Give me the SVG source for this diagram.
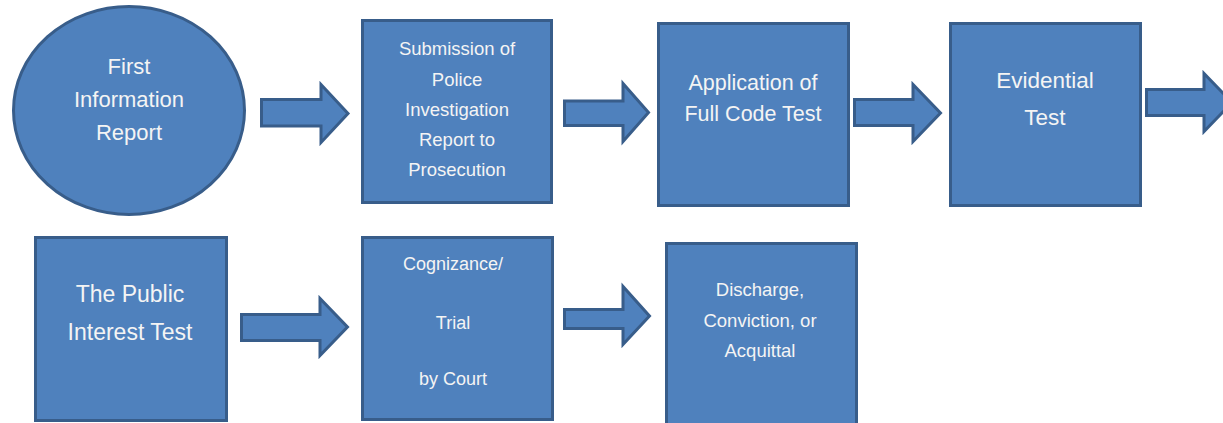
<svg xmlns="http://www.w3.org/2000/svg" width="1223" height="423" viewBox="0 0 1223 423">
<style>
.n{fill:#4f81bd;stroke:#385d8a;stroke-width:3}
.a{fill:#4f81bd;stroke:#385d8a;stroke-width:3;stroke-linejoin:miter}
text{font-family:"Liberation Sans",Arial,sans-serif;fill:#f4f4f4;text-anchor:middle}
</style>
<rect width="1223" height="423" fill="#ffffff"/>
<g id="connectors">
<path class="a" d="M261.5,99.5 H321 V84.5 L348,113.5 L321,142.5 V126 H261.5 Z"/>
<path class="a" d="M564.5,101 H623 V83.5 L648.5,112.5 L623,141.5 V125.5 H564.5 Z"/>
<path class="a" d="M854.5,99.5 H913 V84.5 L940.5,113 L913,141.5 V125.5 H854.5 Z"/>
<path class="a" d="M1146.5,89.5 H1204 V73.5 L1232,102.5 L1204,131.5 V115.5 H1146.5 Z"/>
<path class="a" d="M241.5,314.5 H320 V298.5 L347.5,327 L320,355.5 V340.5 H241.5 Z"/>
<path class="a" d="M564.5,309.5 H623 V286.5 L649.5,316 L623,344.5 V328.5 H564.5 Z"/>
</g>
<g id="n1">
<ellipse class="n" cx="129" cy="110.5" rx="115.5" ry="104"/>
<text font-size="22"><tspan x="129" y="74">First</tspan><tspan x="129" y="107">Information</tspan><tspan x="129" y="140">Report</tspan></text>
</g>
<g id="n2">
<rect class="n" x="362.5" y="20.5" width="189" height="182"/>
<text font-size="18.5"><tspan x="457" y="55">Submission of</tspan><tspan x="457" y="86">Police</tspan><tspan x="457" y="116">Investigation</tspan><tspan x="457" y="146">Report to</tspan><tspan x="457" y="176">Prosecution</tspan></text>
</g>
<g id="n3">
<rect class="n" x="658.5" y="23.5" width="190" height="182"/>
<text font-size="21.5"><tspan x="753" y="90">Application of</tspan><tspan x="753" y="121">Full Code Test</tspan></text>
</g>
<g id="n4">
<rect class="n" x="950.5" y="23.5" width="190" height="182"/>
<text font-size="22.5"><tspan x="1045" y="88">Evidential</tspan><tspan x="1045" y="125">Test</tspan></text>
</g>
<g id="n5">
<rect class="n" x="35.5" y="237.5" width="191" height="183"/>
<text font-size="23"><tspan x="130" y="302">The Public</tspan><tspan x="130" y="340">Interest Test</tspan></text>
</g>
<g id="n6">
<rect class="n" x="362.5" y="237.5" width="190" height="182"/>
<text font-size="18"><tspan x="453" y="269.5">Cognizance/</tspan><tspan x="453" y="328.5">Trial</tspan><tspan x="453" y="384.5">by Court</tspan></text>
</g>
<g id="n7">
<rect class="n" x="666.5" y="243.5" width="190" height="190"/>
<text font-size="18.5"><tspan x="760" y="295.5">Discharge,</tspan><tspan x="760" y="326.5">Conviction, or</tspan><tspan x="760" y="356.5">Acquittal</tspan></text>
</g>
</svg>
